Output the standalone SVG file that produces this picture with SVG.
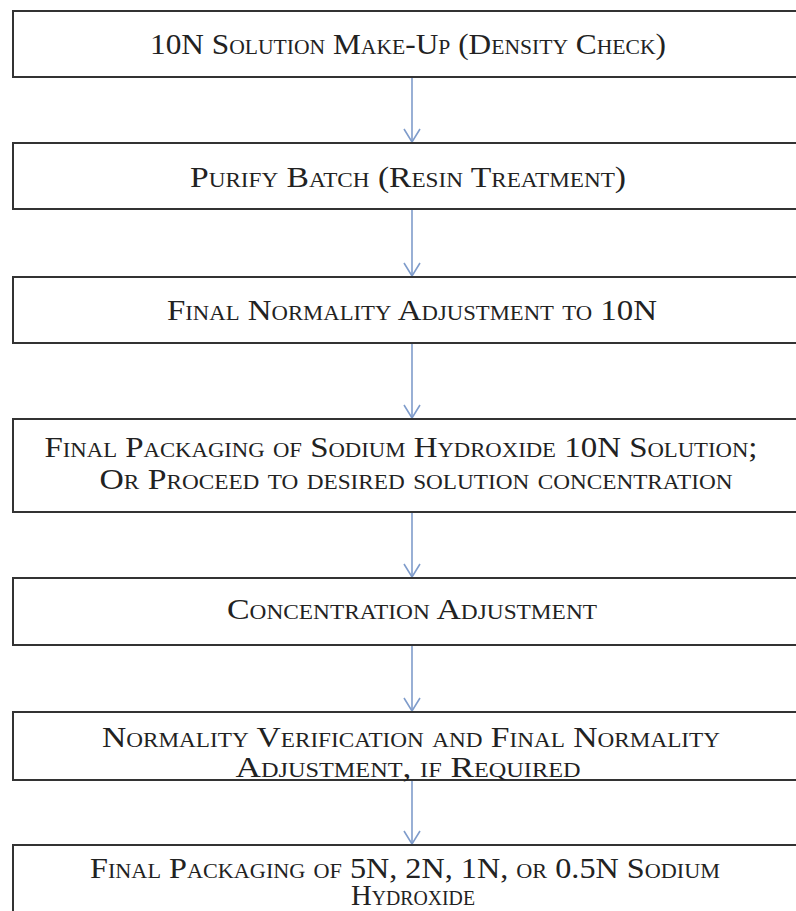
<svg xmlns="http://www.w3.org/2000/svg" width="796" height="911" viewBox="0 0 796 911">
<style>
.box{fill:#fff;stroke:#333;stroke-width:2}
.t{font-family:"Liberation Serif","Times New Roman",serif;font-size:29px;font-variant:small-caps;fill:#222;text-anchor:middle}
.c{stroke:#7f9ccb;stroke-width:1.6;fill:none}
</style>
<defs>
<marker id="av" markerUnits="userSpaceOnUse" markerWidth="24" markerHeight="24" viewBox="-12 -14 24 16" refX="0" refY="0" orient="0">
<path d="M-8,-13 L0,0 L8,-13" fill="none" stroke="#7f9ccb" stroke-width="1.6"/>
</marker>
</defs>
<rect width="796" height="911" fill="#fff"/>
<g id="connectors">
<line class="c" x1="412" y1="77" x2="412" y2="142" marker-end="url(#av)"/>
<line class="c" x1="412" y1="209" x2="412" y2="276" marker-end="url(#av)"/>
<line class="c" x1="412" y1="343" x2="412" y2="418" marker-end="url(#av)"/>
<line class="c" x1="412" y1="512" x2="412" y2="577" marker-end="url(#av)"/>
<line class="c" x1="412" y1="645" x2="412" y2="711" marker-end="url(#av)"/>
<line class="c" x1="412" y1="780" x2="412" y2="844" marker-end="url(#av)"/>
</g>
<g id="n1"><rect class="box" x="13" y="11" width="800" height="66"/><text class="t" x="408" y="54" textLength="516" lengthAdjust="spacingAndGlyphs">10N Solution Make-Up (Density Check)</text></g>
<g id="n2"><rect class="box" x="13" y="143" width="800" height="66"/><text class="t" x="408" y="187" textLength="436" lengthAdjust="spacingAndGlyphs">Purify Batch (Resin Treatment)</text></g>
<g id="n3"><rect class="box" x="13" y="277" width="800" height="66"/><text class="t" x="412" y="320" textLength="490" lengthAdjust="spacingAndGlyphs">Final Normality Adjustment to 10N</text></g>
<g id="n4"><rect class="box" x="13" y="419" width="800" height="93"/><text class="t" x="401" y="457" textLength="713" lengthAdjust="spacingAndGlyphs">Final Packaging of Sodium Hydroxide 10N Solution;</text><text class="t" x="416" y="489" textLength="633" lengthAdjust="spacingAndGlyphs">Or Proceed to desired solution concentration</text></g>
<g id="n5"><rect class="box" x="13" y="578" width="800" height="67"/><text class="t" x="412" y="619" textLength="370" lengthAdjust="spacingAndGlyphs">Concentration Adjustment</text></g>
<g id="n6"><rect class="box" x="13" y="712" width="800" height="68"/><text class="t" x="411" y="747" textLength="618" lengthAdjust="spacingAndGlyphs">Normality Verification and Final Normality</text><text class="t" x="408" y="777" textLength="345" lengthAdjust="spacingAndGlyphs">Adjustment, if Required</text></g>
<g id="n7"><rect class="box" x="13" y="845" width="800" height="80"/><text class="t" x="405" y="878" textLength="630" lengthAdjust="spacingAndGlyphs">Final Packaging of 5N, 2N, 1N, or 0.5N Sodium</text><text class="t" x="413" y="905" textLength="124" lengthAdjust="spacingAndGlyphs">Hydroxide</text></g>
</svg>
